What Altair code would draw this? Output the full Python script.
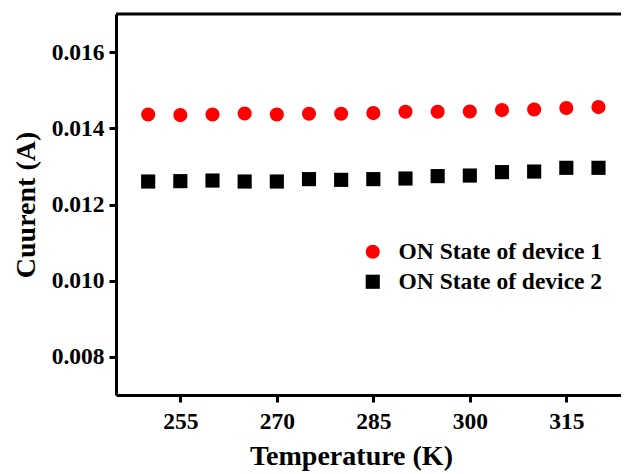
import altair as alt
import pandas as pd

temps = [250, 255, 260, 265, 270, 275, 280, 285, 290, 295, 300, 305, 310, 315, 320]
device1 = [0.014363, 0.014347, 0.014363, 0.014389, 0.014363, 0.014381, 0.014381, 0.014400,
           0.014434, 0.014434, 0.014442, 0.014478, 0.014494, 0.014531, 0.014557]
device2 = [0.012603, 0.012613, 0.012629, 0.012603, 0.012603, 0.012666, 0.012647, 0.012666,
           0.012682, 0.012745, 0.012760, 0.012850, 0.012865, 0.012963, 0.012963]
series_names = ["ON State of device 1", "ON State of device 2"]
x_ticks = [255, 270, 285, 300, 315]
y_ticks = [0.008, 0.010, 0.012, 0.014, 0.016]

rows = []
for t, a, b in zip(temps, device1, device2):
    rows.append({"T": t, "I": a, "s": series_names[0]})
    rows.append({"T": t, "I": b, "s": series_names[1]})
df = pd.DataFrame(rows)

FONT = "Liberation Serif"

pts = alt.Chart(df).mark_point(filled=True, size=200, opacity=1).encode(
    x=alt.X("T:Q", scale=alt.Scale(domain=[245, 323.5], nice=False, zero=False),
            axis=alt.Axis(values=x_ticks, title="Temperature (K)", labelFontSize=23.5,
                          titleFontSize=28, titlePadding=10, labelPadding=7,
                          titleX=235, titleAlign="center")),
    y=alt.Y("I:Q", scale=alt.Scale(domain=[0.007, 0.017], nice=False, zero=False),
            axis=alt.Axis(values=y_ticks, format=".3f", title="Cuurent (A)", labelFontSize=23.5,
                          titleFontSize=28, titlePadding=11, labelPadding=5)),
    color=alt.Color("s:N", scale=alt.Scale(domain=series_names, range=["#FF0000", "#000000"]),
                    legend=alt.Legend(title=None, orient="none", legendX=245, legendY=226,
                                      labelFontSize=23.5, labelFont=FONT, labelFontWeight="bold",
                                      labelLimit=0, labelColor="black",
                                      symbolSize=200, labelOffset=14, rowPadding=5,
                                      symbolStrokeWidth=0, padding=0)),
    shape=alt.Shape("s:N", scale=alt.Scale(domain=series_names, range=["circle", "square"])),
)

top = alt.Chart(pd.DataFrame({"v": [0.017]})).mark_rule(color="black", strokeWidth=3).encode(
    y=alt.Y("v:Q")
)

chart = alt.layer(pts, top).properties(
    width=505, height=381,
    autosize=alt.AutoSizeParams(type="none"),
    padding={"left": 108, "top": 6, "right": 0, "bottom": 78},
).configure_view(stroke=None).configure_axis(
    grid=False, domainColor="black", domainWidth=3, tickColor="black", tickWidth=3,
    tickSize=7, labelFont=FONT, labelFontWeight="bold", labelColor="black",
    titleFont=FONT, titleFontWeight="bold", titleColor="black",
)

chart.save("out.html", embed_options={"renderer": "svg", "actions": False})
